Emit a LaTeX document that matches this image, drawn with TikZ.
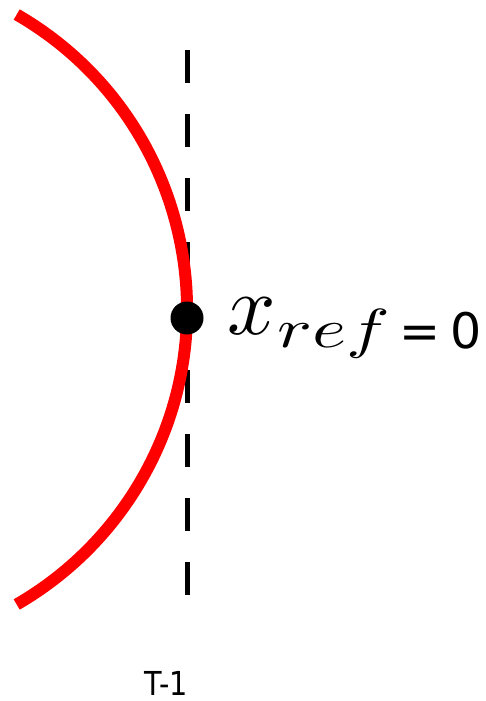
\documentclass[tikz,border=0pt]{standalone}
\usepackage{fontspec}
\newfontfamily\labelfont{DejaVu Sans}
\begin{document}
\begin{tikzpicture}[x=1pt,y=-1pt,
  arcline/.style={red,line width=12pt},
  refline/.style={black,line width=5pt,dash pattern=on 33pt off 31pt},
  refdot/.style={circle,fill=black,inner sep=0pt,minimum size=33pt},
  lbl/.style={inner sep=0pt,font=\labelfont}]
\useasboundingbox (0,0) rectangle (485,701);
\coordinate (c) at (-153.6,309.5);
\coordinate (top) at (187,50);
\coordinate (bot) at (187,596);
\draw[refline] (top) -- (bot);
\draw[arcline] ([shift={(60:340.6pt)}]c) arc[start angle=60,end angle=-60,radius=340.6pt];
\node[refdot] (dot) at (187,318) {};
\node[inner sep=0pt,anchor=base west,scale=8.5] (xv) at (226,334) {$x$};
\node[inner sep=0pt,anchor=base west,xscale=7.3,yscale=5.5] (sub) at (276,347) {$ref$};
\node[lbl,anchor=base,font=\labelfont\fontsize{49}{58}\selectfont] (eq) at (420,348) {=};
\node[lbl,anchor=base,font=\labelfont\fontsize{49}{58}\selectfont] (zero) at (466,348) {0};
\node[lbl,anchor=base,xscale=0.87,font=\labelfont\fontsize{33}{40}\selectfont] (t) at (166,695) {T-1};
\end{tikzpicture}
\end{document}
